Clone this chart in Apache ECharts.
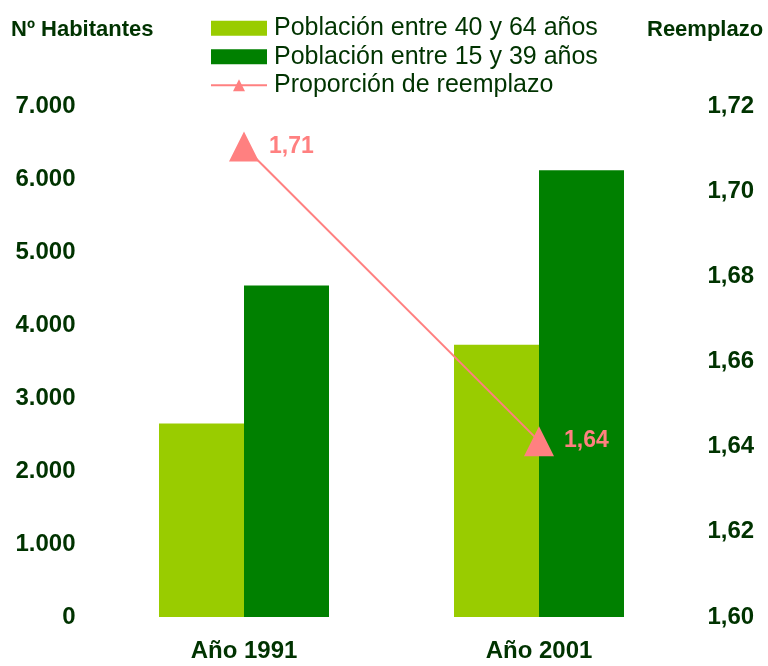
<!DOCTYPE html>
<html>
<head>
<meta charset="utf-8">
<script src="https://cdn.jsdelivr.net/npm/echarts@6/dist/echarts.min.js"></script>
<style>
html,body{margin:0;padding:0;background:#fff;}
#chart{width:768px;height:666px;}
</style>
</head>
<body>
<div id="chart"></div>
<script>
const categories = ['Año 1991', 'Año 2001'];
const pob40a64 = [2650, 3730];
const pob15a39 = [4540, 6120];
const reemplazo = [1.7105, 1.6413];
const seriesNames = ['Población entre 40 y 64 años', 'Población entre 15 y 39 años', 'Proporción de reemplazo'];
const leftAxisTitle = 'Nº Habitantes';
const rightAxisTitle = 'Reemplazo';

const textColor = '#003300';
const font = 'Arial, "Liberation Sans", sans-serif';

const chart = echarts.init(document.getElementById('chart'), null, {renderer: 'canvas'});
chart.setOption({
  animation: false,
  backgroundColor: '#ffffff',
  title: [
    {text: leftAxisTitle, left: 6, top: 14, textStyle: {fontFamily: font, fontSize: 22, fontWeight: 'bold', color: textColor}},
    {text: rightAxisTitle, left: 642, top: 14, textStyle: {fontFamily: font, fontSize: 22, fontWeight: 'bold', color: textColor}}
  ],
  legend: {
    orient: 'vertical',
    left: 210,
    top: 14,
    padding: 0,
    itemWidth: 56,
    itemHeight: 15,
    itemGap: 0,
    selectedMode: false,
    textStyle: {fontFamily: font, fontSize: 25, lineHeight: 28.5, color: textColor, padding: [0, 0, 0, 2]},
    data: [
      {name: seriesNames[0], icon: 'rect'},
      {name: seriesNames[1], icon: 'rect'},
      {name: seriesNames[2]}
    ]
  },
  grid: {left: 96.5, right: 81.5, top: 106, bottom: 49, containLabel: false},
  xAxis: {
    type: 'category',
    data: categories,
    axisLine: {show: false},
    axisTick: {show: false},
    axisLabel: {fontFamily: font, fontSize: 24, fontWeight: 'bold', color: textColor, margin: 22}
  },
  yAxis: [
    {
      type: 'value', min: 0, max: 7000, interval: 1000,
      splitLine: {show: false}, axisLine: {show: false}, axisTick: {show: false},
      axisLabel: {
        fontFamily: font, fontSize: 24, fontWeight: 'bold', color: textColor, margin: 21,
        formatter: v => v.toLocaleString('de-DE')
      }
    },
    {
      type: 'value', min: 1.60, max: 1.72, interval: 0.02,
      splitLine: {show: false}, axisLine: {show: false}, axisTick: {show: false},
      axisLabel: {
        fontFamily: font, fontSize: 24, fontWeight: 'bold', color: textColor, margin: 21,
        formatter: v => v.toFixed(2).replace('.', ',')
      }
    }
  ],
  series: [
    {
      name: seriesNames[0], type: 'bar', data: pob40a64, barWidth: 85, barGap: '0%',
      itemStyle: {color: '#99CC00'}
    },
    {
      name: seriesNames[1], type: 'bar', data: pob15a39, barWidth: 85, barGap: '0%',
      itemStyle: {color: '#008000'}
    },
    {
      name: seriesNames[2], type: 'line', yAxisIndex: 1, data: reemplazo,
      symbol: 'triangle', symbolSize: 30,
      lineStyle: {color: '#FF8080', width: 2},
      itemStyle: {color: '#FF8080'},
      label: {
        show: true, position: 'right', distance: 10,
        fontFamily: font, fontSize: 23, fontWeight: 'bold', color: '#FF8080',
        formatter: p => p.value.toFixed(2).replace('.', ',')
      },
      z: 5
    }
  ]
});
</script>
</body>
</html>
